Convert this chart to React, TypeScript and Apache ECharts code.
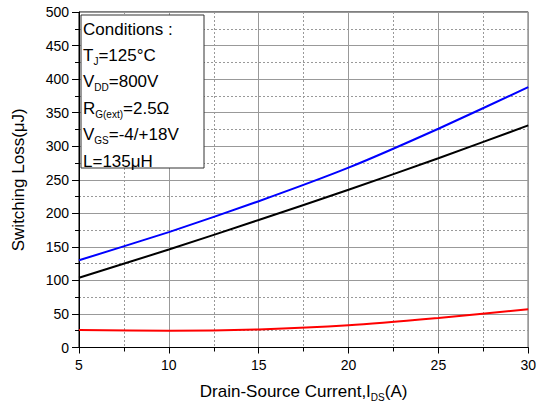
import React, { useEffect, useRef } from "react";
import * as echarts from "echarts";

const currents = [5, 10, 15, 20, 25, 30];
const blueLoss = [130, 172, 218, 268, 326, 388];
const blackLoss = [104, 146, 190, 235, 282, 331];
const redLoss = [26, 25, 27, 33, 44, 57];
const conditionLines = [
  "{n|Conditions :}",
  "{n|T}{s|J}{n|=125°C}",
  "{n|V}{s|DD}{n|=800V}",
  "{n|R}{s|G(ext)}{n|=2.5Ω}",
  "{n|V}{s|GS}{n|=-4/+18V}",
  "{n|L=135μH}",
];

const FONT = "'Liberation Sans', Arial, sans-serif";

export default function App() {
  const ref = useRef<HTMLDivElement>(null);
  useEffect(() => {
    const chart = echarts.init(ref.current!, null, { renderer: "svg" });
    const mk = (vals: number[]) => currents.map((c, i) => [c, vals[i]]);
    const rich = {
      n: { fontSize: 17, fontFamily: FONT, color: "#000", lineHeight: 20 },
      s: { fontSize: 10, fontFamily: FONT, color: "#000", lineHeight: 20, padding: [12, 0, 0, 0] },
    };
    chart.setOption({
      animation: false,
      grid: { left: 79, right: 8, top: 12, bottom: 59, show: true, borderColor: "#000", borderWidth: 1 },
      xAxis: {
        type: "value",
        min: 5,
        max: 30,
        interval: 5,
        name: "{n|Drain-Source Current,I}{s|DS}{n|(A)}",
        nameLocation: "middle",
        nameGap: 34,
        nameTextStyle: {
          rich: {
            n: { fontSize: 17, fontFamily: FONT, color: "#000", lineHeight: 20 },
            s: { fontSize: 10, fontFamily: FONT, color: "#000", lineHeight: 20, padding: [11, 0, 0, 0] },
          },
        },
        axisLine: { lineStyle: { color: "#000", width: 1 } },
        axisTick: { show: true, length: 6, lineStyle: { color: "#000" } },
        minorTick: { show: true, splitNumber: 2, length: 4, lineStyle: { color: "#000" } },
        axisLabel: { fontSize: 14, fontFamily: FONT, color: "#000", margin: 10 },
        splitLine: { show: true, lineStyle: { color: "#999", width: 1 } },
        minorSplitLine: { show: true, lineStyle: { color: "#999", type: [2, 2], width: 1 } },
      },
      yAxis: {
        type: "value",
        min: 0,
        max: 500,
        interval: 50,
        name: "Switching Loss(μJ)",
        nameLocation: "middle",
        nameGap: 52,
        nameTextStyle: { fontSize: 17, fontFamily: FONT, color: "#000" },
        axisLine: { show: true, lineStyle: { color: "#000", width: 1 } },
        axisTick: { show: true, length: 7, lineStyle: { color: "#000" } },
        minorTick: { show: true, splitNumber: 2, length: 4, lineStyle: { color: "#000" } },
        axisLabel: { fontSize: 14, fontFamily: FONT, color: "#000", margin: 10 },
        splitLine: { show: true, lineStyle: { color: "#999", width: 1 } },
        minorSplitLine: { show: true, lineStyle: { color: "#999", type: [2, 2], width: 1 } },
      },
      series: [
        { type: "line", data: mk(blueLoss), showSymbol: false, smooth: 0.2, lineStyle: { color: "#0000ff", width: 2 }, itemStyle: { color: "#0000ff" } },
        { type: "line", data: mk(blackLoss), showSymbol: false, smooth: 0.2, lineStyle: { color: "#000", width: 2 }, itemStyle: { color: "#000" } },
        { type: "line", data: mk(redLoss), showSymbol: false, smooth: 0.3, lineStyle: { color: "#ff0000", width: 2 }, itemStyle: { color: "#ff0000" } },
      ],
      graphic: [
        {
          type: "rect",
          shape: { x: 81, y: 15, width: 123, height: 153 },
          style: { fill: "#fff", stroke: "#333", lineWidth: 1 },
          z: 10,
        },
        ...conditionLines.map((t, i) => ({
          type: "text",
          x: 83,
          y: 19 + i * 26.4,
          z: 11,
          style: { text: t, rich, fill: "#000" },
        })),
      ],
    });
    return () => chart.dispose();
  }, []);
  return <div ref={ref} style={{ width: 539, height: 407, position: "absolute", left: 0, top: 0 }} />;
}
